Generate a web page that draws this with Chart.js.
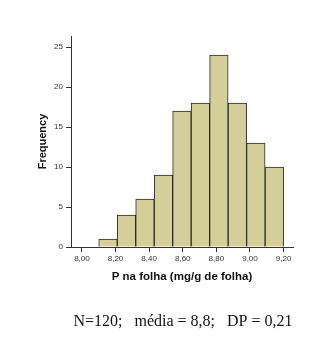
<!DOCTYPE html>
<html>
<head>
<meta charset="utf-8">
<script src="https://cdn.jsdelivr.net/npm/chart.js@4"></script>
<style>
  html, body { margin: 0; padding: 0; background: #fff; }
  #wrap { width: 333px; height: 353px; }
</style>
</head>
<body>
<div id="wrap"><canvas id="histChart"></canvas></div>
<script>
// histogram of leaf P (mg/g), SPSS-style bins
const binStart = 8.10;
const binWidth = 0.11;
const counts = [1, 4, 6, 9, 17, 18, 24, 18, 13, 10];
const xTicks = [8.00, 8.20, 8.40, 8.60, 8.80, 9.00, 9.20];
const yTicks = [0, 5, 10, 15, 20, 25];
const statsLine = 'N=120;   média = 8,8;   DP = 0,21';

const points = counts.map((c, i) => ({ x: binStart + binWidth * (i + 0.5), y: c }));

const axisColor = '#333333';

// stats line under the plot, centred on the chart area
const statsPlugin = {
  id: 'statsLine',
  afterDraw(chart) {
    const { ctx, chartArea } = chart;
    ctx.save();
    ctx.font = '16px "Liberation Serif", "Times New Roman", serif';
    ctx.fillStyle = '#111';
    ctx.textAlign = 'center';
    ctx.textBaseline = 'middle';
    ctx.fillText(statsLine, (chartArea.left + chartArea.right) / 2 + 1, chart.height - 31);
    ctx.restore();
  }
};

new Chart(document.getElementById('histChart').getContext('2d'), {
  type: 'bar',
  data: {
    datasets: [{
      data: points,
      backgroundColor: 'rgb(212, 206, 152)',
      borderColor: '#2a2a2a',
      borderWidth: 1,
      barPercentage: 1,
      categoryPercentage: 1
    }]
  },
  options: {
    responsive: true,
    maintainAspectRatio: false,
    animation: false,
    layout: { padding: { top: 36, right: 40, bottom: 40, left: 0 } },
    plugins: {
      legend: { display: false },
      tooltip: { enabled: false }
    },
    scales: {
      x: {
        type: 'linear',
        min: 7.935,
        max: 9.256,
        offset: false,
        afterBuildTicks: s => { s.ticks = xTicks.map(v => ({ value: v })); },
        afterFit: s => { s.height = 66; },
        grid: { display: true, drawOnChartArea: false, drawTicks: true, tickLength: 5, color: axisColor, offset: false },
        border: { display: true, color: axisColor, width: 1 },
        ticks: {
          color: '#333',
          font: { family: '"Liberation Sans", Arial, sans-serif', size: 8 },
          padding: 2,
          maxRotation: 0,
          callback: v => v.toFixed(2).replace('.', ',')
        },
        title: {
          display: true,
          text: 'P na folha (mg/g de folha)',
          color: '#111',
          font: { family: '"Liberation Sans", Arial, sans-serif', size: 11.5, weight: 'bold' },
          padding: { top: 0, bottom: 29 }
        }
      },
      y: {
        min: 0,
        max: 26.4,
        afterBuildTicks: s => { s.ticks = yTicks.map(v => ({ value: v })); },
        afterFit: s => { s.width = 71; },
        grid: { display: true, drawOnChartArea: false, drawTicks: true, tickLength: 5, color: axisColor },
        border: { display: true, color: axisColor, width: 1 },
        ticks: {
          color: '#333',
          font: { family: '"Liberation Sans", Arial, sans-serif', size: 8 },
          padding: 3
        },
        title: {
          display: true,
          text: 'Frequency',
          color: '#111',
          font: { family: '"Liberation Sans", Arial, sans-serif', size: 11, weight: 'bold' },
          padding: { top: 36, bottom: 0 }
        }
      }
    }
  },
  plugins: [statsPlugin]
});
</script>
</body>
</html>
